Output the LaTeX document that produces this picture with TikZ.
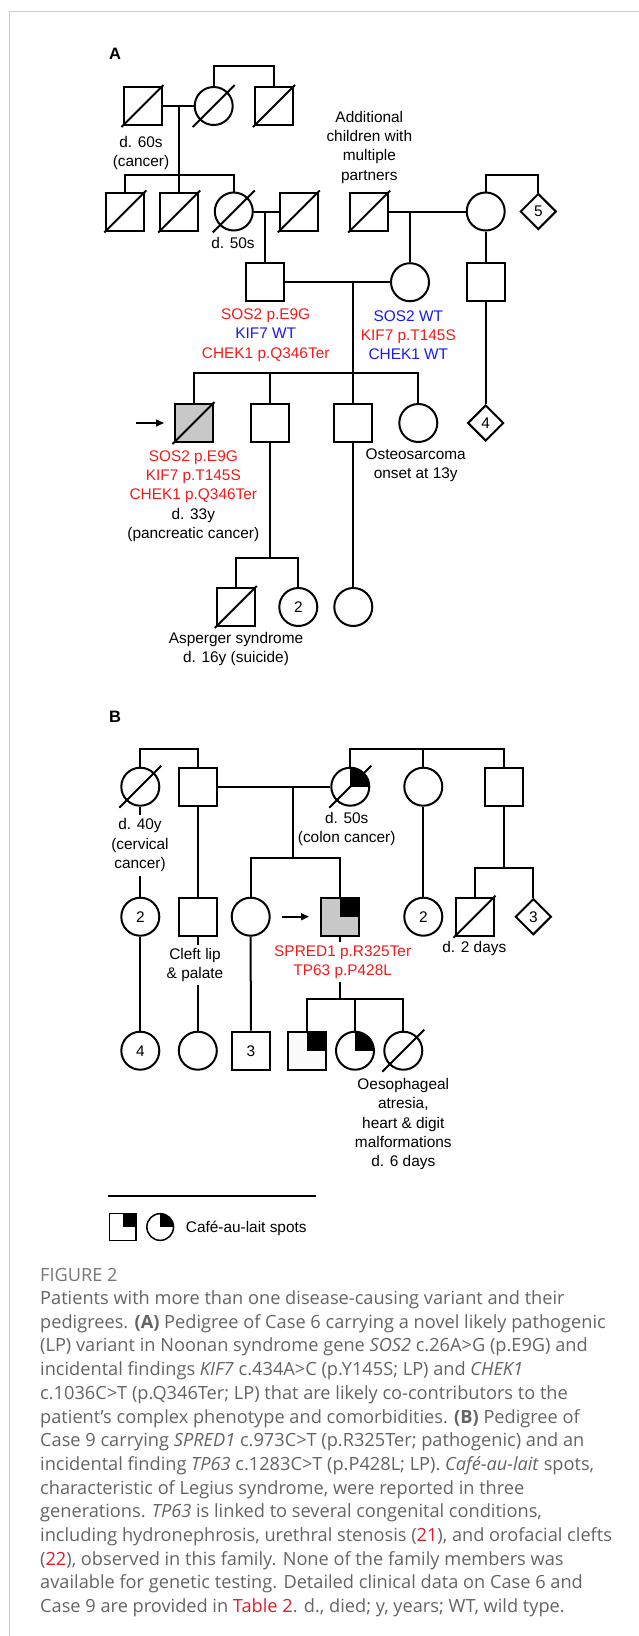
\documentclass[tikz,border=0pt]{standalone}
\usepackage{fontspec}
\setmainfont{Liberation Sans}
\newfontfamily\capfont{Open Sans}
\usetikzlibrary{shapes.geometric,arrows.meta,calc}
\definecolor{vred}{RGB}{245,25,25}
\definecolor{vblue}{RGB}{25,25,245}
\definecolor{capgray}{RGB}{100,100,100}
\definecolor{figgray}{RGB}{120,120,120}
\definecolor{capred}{RGB}{225,30,40}
\definecolor{framegray}{RGB}{204,204,204}
\definecolor{probgray}{RGB}{200,200,200}
\newcommand\pedfont{\fontsize{15.4}{19.3}\selectfont}
\newcommand\panelfont{\fontsize{16.5}{19.3}\selectfont\bfseries}
\newcommand\capsize{\capfont\fontsize{18.2}{23.7}\selectfont}
\newcommand\dslash[1]{\draw[conn] ($(#1.center)+(-21,21)$) -- ($(#1.center)+(21,-21)$);}
\tikzset{
  conn/.style={line width=2pt},
  ped/.style={draw, line width=2pt, inner sep=0pt, fill=white, font=\pedfont},
  sq/.style={ped, rectangle, minimum size=38pt},
  ci/.style={ped, circle, minimum size=38pt},
  dm/.style={ped, diamond, minimum width=36pt, minimum height=36pt},
  quarter/.style={path picture={\fill[black] (path picture bounding box.center) rectangle (path picture bounding box.north east);}},
  lbl/.style={font=\pedfont, align=center, inner sep=0pt},
  capline/.style={anchor=base west, inner sep=0pt, font=\capsize, text=capgray},
  parr/.style={line width=1.6pt, -{Triangle[length=8pt,width=7pt]}}
}
\begin{document}
\begin{tikzpicture}[x=1pt,y=-1pt]
\useasboundingbox (0,0) rectangle (639,1636);
\draw[framegray, line width=1pt] (9.5,1636) -- (9.5,11) -- (639,11);

% ---------------- Panel A ----------------
\node[font=\panelfont, inner sep=0pt] (labA) at (115,54) {A};
% generation I
\node[sq] (a1) at (142.5,106) {};
\node[ci] (a2) at (213.7,106) {};
\node[sq] (a3) at (274,106) {};
\coordinate (a23) at (243.85,65.7);
\draw[conn] (a2.north) |- (a23) -| (a3.north);
\draw[conn] (a1.east) -- (a2.west);
\coordinate (ma1) at (179.25,106);
\coordinate (sa1) at (179.25,175);
\draw[conn] (ma1) -- (sa1);
% generation II
\node[sq] (b1) at (125.3,211.5) {};
\node[sq] (b2) at (179.25,211.5) {};
\node[ci] (b3) at (233.8,211.5) {};
\node[sq] (b4) at (298.8,211.5) {};
\draw[conn] (b1.north) |- (sa1) -| (b3.north);
\draw[conn] (sa1) -- (b2.north);
\draw[conn] (b3.east) -- (b4.west);
\coordinate (ma2) at (265,211.5);
\node[sq] (b5) at (369.2,211.5) {};
\node[ci] (b6) at (485.7,211.5) {};
\node[dm] (b7) at (538.3,211.5) {5};
\coordinate (sa2) at (512,175);
\draw[conn] (b6.north) |- (sa2) -| (b7.north);
\draw[conn] (b5.east) -- (b6.west);
\coordinate (ma3) at (410,211.5);
% generation III
\node[sq] (c1) at (265,282.2) {};
\node[ci] (c2) at (410,282.2) {};
\node[sq] (c3) at (485.7,282.2) {};
\draw[conn] (ma2) -- (c1.north);
\draw[conn] (ma3) -- (c2.north);
\draw[conn] (b6.south) -- (c3.north);
\draw[conn] (c1.east) -- (c2.west);
\coordinate (ma4) at (353.3,282.2);
\coordinate (sa4) at (353.3,373.3);
\draw[conn] (ma4) -- (sa4);
% generation IV
\node[sq, fill=probgray] (d1) at (193.5,423) {};
\node[sq] (d2) at (270,423) {};
\node[sq] (d3) at (353.3,423) {};
\node[ci] (d4) at (418.3,423) {};
\node[dm] (d5) at (485.7,423) {4};
\draw[conn] (d1.north) |- (sa4) -| (d4.north);
\draw[conn] (sa4) -- (d3.north);
\draw[conn] (d2.north) -- (d2.north |- sa4);
\draw[conn] (c3.south) -- (d5.north);
\coordinate (arrA) at (136,423);
\draw[parr, shorten >=9.5pt] (arrA) -- (d1.west);
% generation V
\node[sq] (e1) at (235.8,607) {};
\node[ci] (e2) at (298.3,607) {2};
\node[ci] (e3) at (353.3,607) {};
\coordinate (sa5) at (270,557.7);
\draw[conn] (d2.south) -- (sa5);
\draw[conn] (e1.north) |- (sa5) -| (e2.north);
\draw[conn] (d3.south) -- (e3.north);
% deceased marks
\dslash{a1}\dslash{a2}\dslash{a3}\dslash{b1}\dslash{b2}\dslash{b3}\dslash{b4}\dslash{b5}\dslash{d1}\dslash{e1}
% labels A
\node[lbl] (ta1) at (141,153) {d. 60s\\(cancer)};
\node[lbl] (ta2) at (233,243) {d. 50s};
\node[lbl] (ta3) at (369.3,147.2) {Additional\\children with\\multiple\\partners};
\node[lbl] (ta4) at (265.7,335.2) {\textcolor{vred}{SOS2 p.E9G}\\\textcolor{vblue}{KIF7 WT}\\\textcolor{vred}{CHEK1 p.Q346Ter}};
\node[lbl] (ta5) at (408.3,335.2) {\textcolor{vblue}{SOS2 WT}\\\textcolor{vred}{KIF7 p.T145S}\\\textcolor{vblue}{CHEK1 WT}};
\node[lbl] (ta6) at (193.3,496) {\textcolor{vred}{SOS2 p.E9G}\\\textcolor{vred}{KIF7 p.T145S}\\\textcolor{vred}{CHEK1 p.Q346Ter}\\d. 33y\\(pancreatic cancer)};
\node[lbl] (ta7) at (415.7,465) {Osteosarcoma\\onset at 13y};
\node[lbl] (ta8) at (236,648.7) {Asperger syndrome\\d. 16y (suicide)};

% ---------------- Panel B ----------------
\node[font=\panelfont, inner sep=0pt] (labB) at (115,716.7) {B};
\node[ci] (f1) at (140.3,786.7) {};
\node[sq] (f2) at (197.8,786.7) {};
\node[ci, quarter] (f3) at (350.3,786.7) {};
\node[ci] (f4) at (423.3,786.7) {};
\node[sq] (f5) at (504.3,786.7) {};
\coordinate (sf12) at (169,749);
\draw[conn] (f1.north) |- (sf12) -| (f2.north);
\coordinate (sf35) at (423.3,749);
\draw[conn] (f3.north) |- (sf35) -| (f5.north);
\draw[conn] (sf35) -- (f4.north);
\draw[conn] (f2.east) -- (f3.west);
\coordinate (mf) at (293.3,786.7);
\coordinate (sf) at (293.3,857.7);
\draw[conn] (mf) -- (sf);
% generation II
\node[ci] (g1) at (140.3,916.7) {2};
\node[sq] (g2) at (197.8,916.7) {};
\node[ci] (g3) at (250.7,916.7) {};
\node[sq, fill=probgray, quarter] (g4) at (339.5,916.7) {};
\node[ci] (g5) at (423.3,916.7) {2};
\node[sq] (g6) at (474.5,916.7) {};
\node[dm] (g7) at (533.3,916.7) {3};
\draw[conn] (g3.north) |- (sf) -| (g4.north);
\draw[conn] (f1.south) -- (g1.north);
\draw[conn] (f4.south) -- (g5.north);
\coordinate (sg) at (504.3,867.7);
\draw[conn] (f5.south) -- (sg);
\draw[conn] (g6.north) |- (sg) -| (g7.north);
\coordinate (arrB) at (281.7,916.7);
\draw[parr, shorten >=10.5pt] (arrB) -- (g4.west);
% generation III
\node[ci] (h1) at (140.3,1050.7) {4};
\node[ci] (h2) at (197.8,1050.7) {};
\node[sq] (h3) at (250.8,1050.7) {3};
\node[sq, fill=gray!4, quarter] (h4) at (306.8,1050.7) {};
\node[ci, quarter] (h5) at (355,1050.7) {};
\node[ci] (h6) at (403.3,1050.7) {};
\draw[conn] (g1.south) -- (h1.north);
\draw[conn] (f2.south) -- (g2.north);
\draw[conn] (g2.south) -- (h2.north);
\draw[conn] (g3.south) -- (h3.north);
\coordinate (sh) at (339.5,999.3);
\draw[conn] (g4.south) -- (sh);
\draw[conn] (h4.north) |- (sh) -| (h6.north);
\draw[conn] (h5.north) -- (h5.north |- sh);
\dslash{f1}\dslash{f3}\dslash{g6}\dslash{h6}
% labels B
\node[lbl, fill=white, inner sep=4pt] (tb1) at (140,845.3) {d. 40y\\(cervical\\cancer)};
\node[lbl] (tb2) at (346.7,829.3) {d. 50s\\(colon cancer)};
\node[lbl] (tb3) at (474.3,949) {d. 2 days};
\node[lbl, fill=white, inner sep=3pt] (tb4) at (195,965) {Cleft lip\\\& palate};
\node[lbl, fill=white, inner sep=3pt] (tb5) at (342.7,962) {\textcolor{vred}{SPRED1 p.R325Ter}\\\textcolor{vred}{TP63 p.P428L}};
\node[lbl] (tb6) at (403.3,1124.2) {Oesophageal\\atresia,\\heart \& digit\\malformations\\d. 6 days};

% ---------------- Legend ----------------
\coordinate (legL) at (108,1195.5);
\coordinate (legR) at (315.5,1195.5);
\draw[line width=2pt] (legL) -- (legR);
\node[draw, line width=1.5pt, minimum size=26.7pt, inner sep=0pt, fill=white, quarter] (l1) at (122.7,1227) {};
\node[draw, circle, line width=1.5pt, minimum size=26.7pt, inner sep=0pt, fill=white, quarter] (l2) at (160.2,1227) {};
\node[anchor=west, font=\pedfont, inner sep=0pt] (l3) at (185.7,1228) {Café-au-lait spots};

% ---------------- Caption ----------------
\node[anchor=base west, inner sep=0pt, font=\capsize, text=figgray] (cap0) at (40,1281) {FIGURE 2};
\node[capline] (cap1) at (40,1304.5) {Patients with more than one disease-causing variant and their};
\node[capline] (cap2) at (40,1328.2) {pedigrees. \textbf{(A)} Pedigree of Case 6 carrying a novel likely pathogenic};
\node[capline] (cap3) at (40,1351.9) {(LP) variant in Noonan syndrome gene \textit{SOS2} c.26A>G (p.E9G) and};
\node[capline] (cap4) at (40,1375.6) {incidental findings \textit{KIF7} c.434A>C (p.Y145S; LP) and \textit{CHEK1}};
\node[capline] (cap5) at (40,1399.3) {c.1036C>T (p.Q346Ter; LP) that are likely co-contributors to the};
\node[capline] (cap6) at (40,1423.0) {patient’s complex phenotype and comorbidities. \textbf{(B)} Pedigree of};
\node[capline] (cap7) at (40,1446.7) {Case 9 carrying \textit{SPRED1} c.973C>T (p.R325Ter; pathogenic) and an};
\node[capline] (cap8) at (40,1470.4) {incidental finding \textit{TP63} c.1283C>T (p.P428L; LP). \textit{Café-au-lait} spots,};
\node[capline] (cap9) at (40,1494.1) {characteristic of Legius syndrome, were reported in three};
\node[capline] (cap10) at (40,1517.8) {generations. \textit{TP63} is linked to several congenital conditions,};
\node[capline] (cap11) at (40,1541.5) {including hydronephrosis, urethral stenosis (\textcolor{capred}{21}), and orofacial clefts};
\node[capline] (cap12) at (40,1565.2) {(\textcolor{capred}{22}), observed in this family. None of the family members was};
\node[capline] (cap13) at (40,1588.9) {available for genetic testing. Detailed clinical data on Case 6 and};
\node[capline] (cap14) at (40,1612.6) {Case 9 are provided in \textcolor{capred}{Table 2}. d., died; y, years; WT, wild type.};
\end{tikzpicture}
\end{document}
